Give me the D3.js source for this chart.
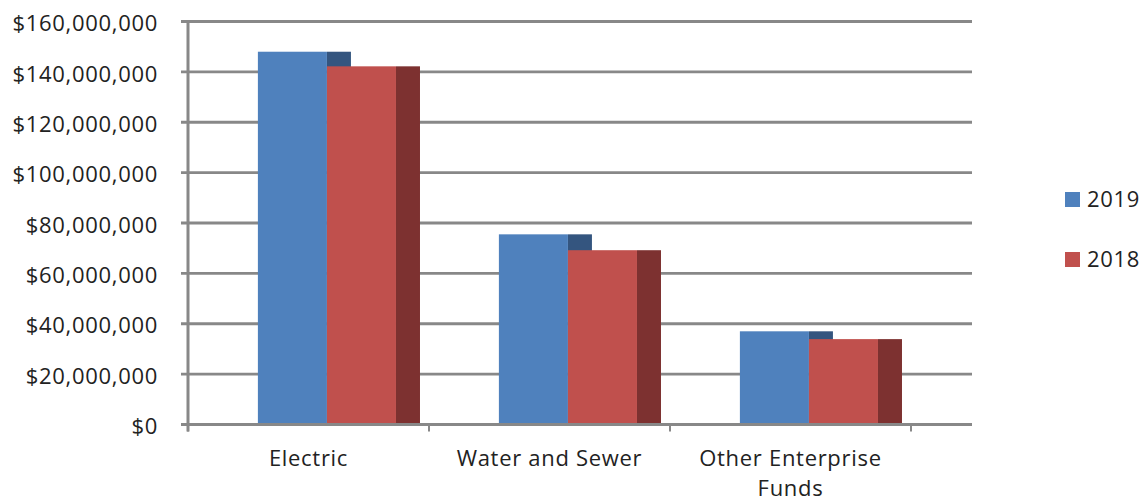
<!DOCTYPE html>
<html>
<head>
<meta charset="utf-8">
<script src="https://cdn.jsdelivr.net/npm/d3@7"></script>
<style>
  html, body { margin: 0; padding: 0; background: #fff; }
  svg { display: block; }
  text { font-family: "Open Sans", "Noto Sans", sans-serif; fill: #222; font-size: 22px; letter-spacing: 0.7px; }
</style>
</head>
<body>
<svg id="chart" width="1146" height="502"></svg>
<script>
// Enterprise fund totals by year
const categories = ["Electric", "Water and Sewer", "Other Enterprise Funds"];
const series = ["2019", "2018"];
const values2019 = [148000000, 75500000, 37000000];
const values2018 = [142200000, 69200000, 33900000];
const yTicks = [0, 20000000, 40000000, 60000000, 80000000, 100000000, 120000000, 140000000, 160000000];

const frontColors = { "2019": "#4F81BD", "2018": "#C0504D" };
const sideColors  = { "2019": "#34557F", "2018": "#7D3130" };

const svg = d3.select("#chart");

// plot geometry
const wallX = 188, plotRight = 972, catRight = 911;
const yTop = 21.5, yBase = 424.5;
const depth = 24;

const y = d3.scaleLinear().domain([0, 160000000]).range([yBase, yTop]);
const x = d3.scaleBand().domain(categories).range([wallX, catRight]).padding(0);
const bw = x.bandwidth();
// two series columns inside each category slot
const inner = d3.scaleBand().domain(series).range([bw * 0.29, bw * 0.863]).padding(0);

const gridColor = "#888888";

// horizontal gridlines (behind the bars)
svg.append("g").selectAll("line")
  .data(yTicks)
  .join("line")
  .attr("x1", wallX - 7).attr("x2", plotRight)
  .attr("y1", d => y(d)).attr("y2", d => y(d))
  .attr("stroke", gridColor).attr("stroke-width", 2.8);

// left wall edge
svg.append("line")
  .attr("x1", wallX).attr("x2", wallX)
  .attr("y1", yTop - 1.5).attr("y2", yBase + 7)
  .attr("stroke", gridColor).attr("stroke-width", 3);

// category tick marks below the floor
svg.append("g").selectAll("line")
  .data(d3.range(categories.length + 1))
  .join("line")
  .attr("x1", i => wallX + i * bw).attr("x2", i => wallX + i * bw)
  .attr("y1", yBase).attr("y2", yBase + 7)
  .attr("stroke", gridColor).attr("stroke-width", 2);

// y axis labels
const fmt = v => "$" + d3.format(",")(v);
svg.append("g").selectAll("text")
  .data(yTicks)
  .join("text")
  .attr("x", 158)
  .attr("y", d => y(d) + 2)
  .attr("dy", "0.35em")
  .attr("text-anchor", "end")
  .text(fmt);

// bars: side face then front face, series drawn back-to-front
const rows = categories.map((c, i) => ({ cat: c, "2019": values2019[i], "2018": values2018[i] }));
const bars = svg.append("g");
series.forEach(s => {
  const g = bars.append("g");
  g.selectAll("rect.side")
    .data(rows)
    .join("rect")
    .attr("class", "side")
    .attr("x", d => x(d.cat) + inner(s) + inner.bandwidth())
    .attr("y", d => y(d[s]))
    .attr("width", depth)
    .attr("height", d => yBase - y(d[s]))
    .attr("fill", sideColors[s]);
  g.selectAll("rect.front")
    .data(rows)
    .join("rect")
    .attr("class", "front")
    .attr("x", d => x(d.cat) + inner(s))
    .attr("y", d => y(d[s]))
    .attr("width", inner.bandwidth())
    .attr("height", d => yBase - y(d[s]))
    .attr("fill", frontColors[s]);
});

// floor line drawn over the bar bottoms
svg.append("line")
  .attr("x1", wallX - 7).attr("x2", plotRight)
  .attr("y1", yBase).attr("y2", yBase)
  .attr("stroke", gridColor).attr("stroke-width", 2.8);

// category labels, wrapped to the slot width
const labelLines = { "Electric": ["Electric"], "Water and Sewer": ["Water and Sewer"], "Other Enterprise Funds": ["Other Enterprise", "Funds"] };
const catG = svg.append("g");
categories.forEach(c => {
  const t = catG.append("text")
    .attr("x", x(c) + bw / 2)
    .attr("y", 466)
    .attr("text-anchor", "middle");
  labelLines[c].forEach((ln, j) => {
    t.append("tspan").attr("x", x(c) + bw / 2).attr("dy", j === 0 ? 0 : 30).text(ln);
  });
});

// legend
const legend = svg.append("g");
series.forEach((s, i) => {
  const ly = 192 + i * 60;
  legend.append("rect")
    .attr("x", 1065).attr("y", ly)
    .attr("width", 15).attr("height", 15)
    .attr("fill", frontColors[s]);
  legend.append("text")
    .attr("x", 1087).attr("y", ly + 15)
    .text(s);
});
</script>
</body>
</html>
